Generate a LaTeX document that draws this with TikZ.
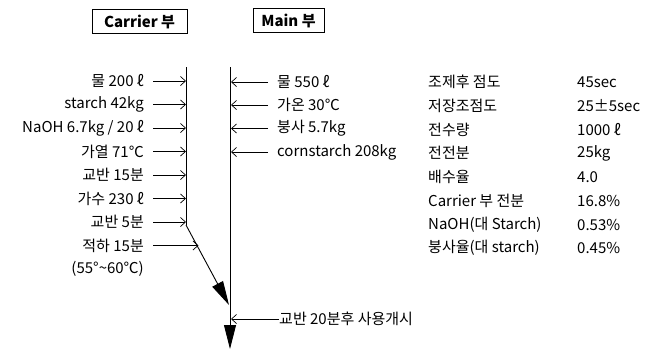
\documentclass[tikz,border=0pt]{standalone}
\usepackage{fontspec}
\setmainfont{Noto Sans CJK KR}
\usetikzlibrary{arrows.meta}
\begin{document}
\begin{tikzpicture}[x=1pt,y=-1pt,
  txt/.style={font=\fontsize{15}{16}\selectfont, inner sep=0pt},
  lbl/.style={txt, anchor=east},
  rlbl/.style={txt, anchor=west},
  hdr/.style={txt, font=\fontsize{15}{16}\selectfont\bfseries, draw, line width=0.9pt, minimum height=24pt, inner xsep=5pt},
  flow/.style={line width=0.9pt},
  thin/.style={line width=0.7pt, -{Straight Barb[length=5pt,width=9pt]}},
  big/.style={line width=0.9pt, -{Triangle[length=24pt,width=12pt]}}]
\useasboundingbox (0,0) rectangle (654,349);
% headers
\node[hdr, minimum width=95pt] (hc) at (139.5,21.5) {Carrier 부};
\node[hdr, minimum width=71pt] (hm) at (288.5,20.5) {Main 부};
% flow lines
\coordinate (ctop) at (186,67);
\coordinate (cbend) at (186,225);
\coordinate (ctip) at (229,305);
\coordinate (mtop) at (230,67);
\coordinate (mtip) at (230,349);
\draw[flow] (ctop) -- (cbend);
\draw[big] (cbend) -- (ctip);
\draw[big] (mtop) -- (mtip);
% carrier inputs
\foreach \n/\y/\t in {1/81/{물 200 ℓ},2/104.5/{starch 42kg},3/128/{NaOH 6.7kg / 20 ℓ},4/151.5/{가열 71℃},5/175/{교반 15분},6/198.5/{가수 230 ℓ},7/222/{교반 5분}}{
  \node[lbl] (L\n) at (144,\y) {\t};
  \coordinate (Lc\n) at (186,\y);
  \draw[thin] ([xshift=9pt]L\n.east) -- (Lc\n);
}
\node[lbl] (L8) at (144,245.5) {적하 15분};
\coordinate (Lc8) at (198.5,250);
\draw[thin] ([xshift=9pt]L8.east) -- (L8.east -| Lc8);
\node[lbl] (L9) at (144,269) {(55°\textasciitilde 60℃)};
% main inputs
\foreach \n/\y/\t in {1/82/{물 550 ℓ},2/105/{가온 30℃},3/128.5/{붕사 5.7kg},4/152/{cornstarch 208kg}}{
  \node[rlbl] (M\n) at (277,\y) {\t};
  \coordinate (Mc\n) at (231,\y);
  \draw[thin] ([xshift=-9pt]M\n.west) -- (Mc\n);
}
\node[rlbl] (M5) at (279,319) {교반 20분후 사용개시};
\coordinate (Mc5) at (231,319);
\draw[thin] (M5.west) -- (Mc5);
% table
\foreach \n/\y/\a/\b in {1/82/{조제후 점도}/{45sec},2/106/{저장조점도}/{25±5sec},3/129.5/{전수량}/{1000 ℓ},4/153/{전전분}/{25kg},5/177/{배수율}/{4.0},6/201/{Carrier 부 전분}/{16.8\%},7/224.5/{NaOH(대 Starch)}/{0.53\%},8/248/{붕사율(대 starch)}/{0.45\%}}{
  \node[rlbl] (T\n) at (428,\y) {\a};
  \node[rlbl] (V\n) at (577,\y) {\b};
}
\end{tikzpicture}
\end{document}
